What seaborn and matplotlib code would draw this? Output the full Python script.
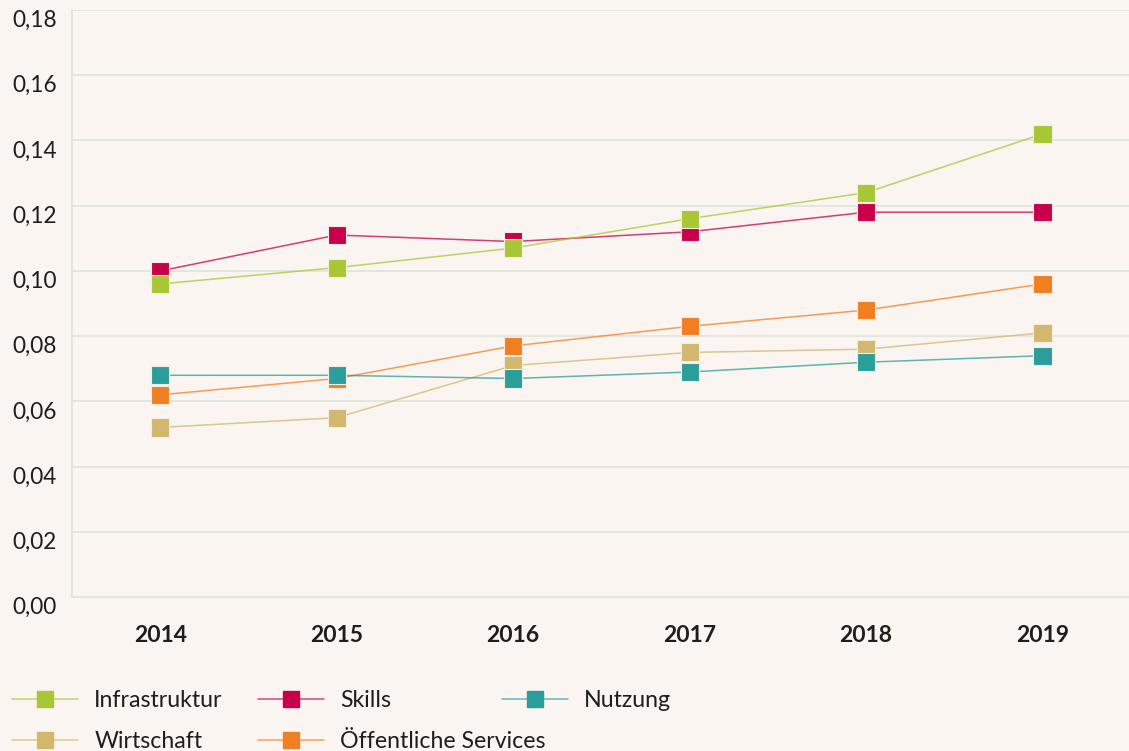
import pandas as pd
import matplotlib.pyplot as plt
import seaborn as sns
from matplotlib.lines import Line2D
from matplotlib.colors import to_rgba
from matplotlib.ticker import FixedLocator

# data
years = [2014, 2015, 2016, 2017, 2018, 2019]
infrastruktur = [0.096, 0.101, 0.107, 0.116, 0.124, 0.142]
skills = [0.100, 0.111, 0.109, 0.112, 0.118, 0.118]
nutzung = [0.068, 0.068, 0.067, 0.069, 0.072, 0.074]
wirtschaft = [0.052, 0.055, 0.071, 0.075, 0.076, 0.081]
services = [0.062, 0.067, 0.077, 0.083, 0.088, 0.096]

series_names = ["Infrastruktur", "Skills", "Nutzung", "Wirtschaft", "Öffentliche Services"]
series_values = [infrastruktur, skills, nutzung, wirtschaft, services]
colors = {
    "Infrastruktur": "#a8c734",
    "Skills": "#c8004b",
    "Nutzung": "#2a9e9b",
    "Wirtschaft": "#d2b86e",
    "Öffentliche Services": "#f07f22",
}

# draw order: later rows end up on top
draw_order = ["Wirtschaft", "Öffentliche Services", "Nutzung", "Skills", "Infrastruktur"]
rows = []
for name in draw_order:
    vals = series_values[series_names.index(name)]
    for yr, v in zip(years, vals):
        rows.append({"year": yr, "value": v, "series": name})
df = pd.DataFrame(rows)

bg = "#faf5f0"
grid = "#dfe3dc"

sns.set_style("white")
plt.rcParams['font.family'] = ['Lato', 'DejaVu Sans']

fig = plt.figure(figsize=(11.29, 7.51), dpi=100, facecolor=bg)
ax = fig.add_axes([0.0638, 0.205, 0.9362, 0.7817])
ax.set_facecolor(bg)

sns.lineplot(data=df, x="year", y="value", hue="series", hue_order=draw_order,
             palette=colors, linewidth=1.1, alpha=0.75, legend=False, ax=ax,
             sort=True, zorder=2)
sns.scatterplot(data=df, x="year", y="value", hue="series", hue_order=draw_order,
                palette=colors, marker="s", s=170, edgecolor="#f3ece0",
                linewidth=0.8, legend=False, ax=ax, zorder=3)

ax.set_xlim(2013.5, 2019.49)
ax.set_ylim(0, 0.18)
ax.set_xlabel("")
ax.set_ylabel("")

yt = [0.00, 0.02, 0.04, 0.06, 0.08, 0.10, 0.12, 0.14, 0.16, 0.18]
ax.set_yticks(yt)
ax.set_yticklabels([f"{v:.2f}".replace(".", ",") for v in yt], fontsize=16.3, color="#1e1e1e")
for lab in ax.get_yticklabels():
    lab.set_verticalalignment("top")
ax.tick_params(axis="y", length=0, pad=11)
ax.yaxis.grid(True, color=grid, linewidth=1.2)
ax.set_axisbelow(True)

ax.set_xticks(years)
ax.set_xticklabels([str(y) for y in years], fontsize=16.5, fontweight="bold", color="#1e1e1e")
ax.xaxis.set_minor_locator(FixedLocator([2014.5, 2015.5, 2016.5, 2017.5, 2018.5]))
ax.tick_params(axis="x", which="major", length=0, pad=20)
ax.tick_params(axis="x", which="minor", length=11, direction="in", color=grid, width=1.2)

for side in ["top", "right"]:
    ax.spines[side].set_visible(False)
for side in ["left", "bottom"]:
    ax.spines[side].set_color(grid)
    ax.spines[side].set_linewidth(1.2)

# legend, three columns with fixed spacing
def handle(name):
    return Line2D([0], [0], color=to_rgba(colors[name], 0.7), linewidth=1.1, marker="s",
                  markersize=12, markerfacecolor=colors[name], markeredgecolor=colors[name])

columns = [(["Infrastruktur", "Wirtschaft"], 0.0023),
           (["Skills", "Öffentliche Services"], 0.220),
           (["Nutzung"], 0.4363)]
for names, x0 in columns:
    leg = fig.legend([handle(n) for n in names], names, loc="upper left",
                     bbox_to_anchor=(x0, 0.0932), frameon=False, fontsize=16.7,
                     handlelength=2.85, handletextpad=0.7, labelspacing=0.85,
                     borderaxespad=0, borderpad=0.4, labelcolor="#1e1e1e")

fig.savefig("out.png", dpi=100, facecolor=bg)
